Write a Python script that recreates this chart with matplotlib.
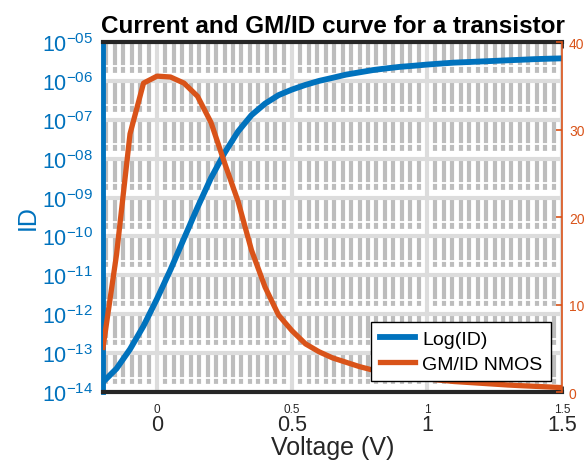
import matplotlib
matplotlib.use("Agg")
import matplotlib.pyplot as plt
from matplotlib.ticker import MultipleLocator, NullLocator

plt.rcParams['font.family'] = ['Liberation Sans', 'DejaVu Sans']
plt.rcParams['mathtext.fontset'] = 'custom'
plt.rcParams['mathtext.rm'] = 'Liberation Sans'
plt.rcParams['mathtext.it'] = 'Liberation Sans:italic'
plt.rcParams['mathtext.bf'] = 'Liberation Sans:bold'

# gate voltage sweep (V)
voltage = [-0.2, -0.15, -0.1, -0.05, 0.0, 0.05, 0.1, 0.15, 0.2, 0.25,
           0.3, 0.35, 0.4, 0.45, 0.5, 0.55, 0.6, 0.65, 0.7, 0.75,
           0.8, 0.85, 0.9, 0.95, 1.0, 1.05, 1.1, 1.15, 1.2, 1.25,
           1.3, 1.35, 1.4, 1.45, 1.5]
# drain current (A)
drain_current = [1.8e-14, 4.0e-14, 1.26e-13, 5.0e-13, 2.5e-12, 1.4e-11, 8.9e-11, 5.6e-10, 3.2e-9, 1.4e-8,
                 5.0e-8, 1.32e-7, 2.6e-7, 4.3e-7, 6.0e-7, 7.9e-7, 1.0e-6, 1.2e-6, 1.45e-6, 1.66e-6,
                 1.9e-6, 2.1e-6, 2.3e-6, 2.45e-6, 2.63e-6, 2.79e-6, 2.95e-6, 3.05e-6, 3.16e-6, 3.27e-6,
                 3.39e-6, 3.5e-6, 3.63e-6, 3.72e-6, 3.8e-6]
# gm/id (1/V)
gm_id = [5.1, 15.7, 29.5, 35.3, 36.1, 36.0, 35.3, 33.8, 30.8, 26.2,
         21.8, 16.2, 12.0, 8.8, 7.0, 5.5, 4.6, 3.9, 3.4, 2.9,
         2.5, 2.2, 1.9, 1.7, 1.5, 1.35, 1.2, 1.1, 1.0, 0.9,
         0.8, 0.72, 0.65, 0.58, 0.5]

x_ticks = [0, 0.5, 1, 1.5]
x_tick_labels = ['0', '0.5', '1', '1.5']
id_ticks = [1e-14, 1e-13, 1e-12, 1e-11, 1e-10, 1e-9, 1e-8, 1e-7, 1e-6, 1e-5]
id_tick_labels = ['$10^{-%02d}$' % e for e in range(14, 4, -1)]
gm_ticks = [0, 10, 20, 30, 40]

blue = '#0072BD'
orange = '#D95319'
dark = '#262626'

fig = plt.figure(figsize=(5.86, 4.64), dpi=100)
ax = fig.add_axes([0.1758, 0.153, 0.7833, 0.7543])
ax.set_axisbelow(True)

ax.set_xlim(-0.2, 1.5)
ax.set_yscale('log')
ax.set_ylim(1e-14, 1e-5)
ax.set_xticks(x_ticks, labels=x_tick_labels)
ax.set_yticks(id_ticks, labels=id_tick_labels)
ax.yaxis.set_minor_locator(NullLocator())
ax.xaxis.set_minor_locator(MultipleLocator(0.5 / 16))

# dense minor grid, then white bands and the major grid on top
ax.grid(which='minor', axis='x', color='#bdbdbd', linewidth=3)
for t in id_ticks[:-1]:
    ax.axhline(t * 1.34, color='white', linewidth=4.5, zorder=0.7)
    ax.axhline(t * 2.35, color='white', linewidth=1.3, zorder=0.7)
for t in x_ticks:
    ax.axvline(t, color='#dcdcdc', linewidth=3, zorder=0.8)
for t in id_ticks:
    ax.axhline(t, color='#dcdcdc', linewidth=3, zorder=0.8)

l1, = ax.plot(voltage, drain_current, color=blue, linewidth=4.2, label='Log(ID)')

ax.tick_params(axis='x', which='major', top=True, direction='in', length=4, width=2,
               color=dark, labelcolor=dark, labelsize=15.5, pad=16)
ax.tick_params(axis='x', which='minor', length=0)
ax.tick_params(axis='y', direction='in', length=4, width=2, color=blue,
               labelcolor=blue, labelsize=15.5, pad=7)

# small duplicate tick labels under the axis
sec = ax.secondary_xaxis('bottom')
sec.set_xticks(x_ticks, labels=x_tick_labels)
sec.tick_params(length=0, labelsize=8.5, labelcolor=dark, pad=8)
sec.spines['bottom'].set_visible(False)

ax.spines['left'].set_color(blue)
ax.spines['left'].set_linewidth(3.5)
ax.spines['right'].set_visible(False)
for s in ['top', 'bottom']:
    ax.spines[s].set_color(dark)
    ax.spines[s].set_linewidth(3)

ax2 = ax.twinx()
ax2.set_ylim(0, 40)
ax2.set_yticks(gm_ticks)
l2, = ax2.plot(voltage, gm_id, color=orange, linewidth=3.8, label='GM/ID NMOS')
ax2.tick_params(axis='y', direction='in', length=4, width=1.2, color=orange,
                labelcolor=orange, labelsize=10, pad=5)
for s in ['left', 'top', 'bottom']:
    ax2.spines[s].set_visible(False)
ax2.spines['right'].set_color(orange)
ax2.spines['right'].set_linewidth(1.2)

ax.set_title('Current and GM/ID curve for a transistor', fontsize=17.5,
             fontweight='bold', color='black', pad=7)
ax.set_xlabel('Voltage (V)', fontsize=18, color=dark)
ax.xaxis.set_label_coords(0.5, -0.122)
ax.set_ylabel('ID', fontsize=18, color=blue)
ax.yaxis.set_label_coords(-0.137, 0.5)

leg = ax2.legend(handles=[l1, l2], loc='lower right', fontsize=14,
                 fancybox=False, framealpha=1, edgecolor='black',
                 borderaxespad=0.55, borderpad=0.45, labelspacing=0.35,
                 handlelength=1.8, handletextpad=0.4)
leg.get_frame().set_linewidth(1)

fig.savefig('out.png', dpi=100)
